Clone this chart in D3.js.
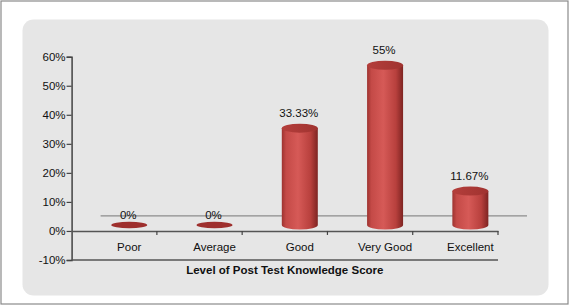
<!DOCTYPE html>
<html>
<head>
<meta charset="utf-8">
<script src="https://cdn.jsdelivr.net/npm/d3@7"></script>
<style>
  body { margin: 0; background: #fff; }
  text { font-family: "Liberation Sans", Arial, sans-serif; }
</style>
</head>
<body>
<svg id="chart"></svg>
<script>
// chart data
const categories = ["Poor", "Average", "Good", "Very Good", "Excellent"];
const values = [0, 0, 33.33, 55, 11.67];
const valueLabels = ["0%", "0%", "33.33%", "55%", "11.67%"];
const yTicks = [-10, 0, 10, 20, 30, 40, 50, 60];
const xTitle = "Level of Post Test Knowledge Score";

const W = 570, H = 306;
const mLeft = 71.6, mRight = 498, mTop = 56.7, mBottom = 260;
// 3d offset of the bars
const dx = 15, dy = -6;

const svg = d3.select("#chart").attr("width", W).attr("height", H);

// outer frame and rounded panel
svg.append("rect").attr("x", 1).attr("y", 1).attr("width", W - 3).attr("height", H - 3)
  .attr("fill", "#fff").attr("stroke", "#8a8a8a").attr("stroke-width", 1.2);
svg.append("rect").attr("x", 22.5).attr("y", 19.5).attr("width", 526).attr("height", 276)
  .attr("rx", 11).attr("fill", "#e6e6e6");

const x = d3.scaleBand().domain(categories).range([mLeft, mRight]);
const y = d3.scaleLinear().domain([-10, 60]).range([mBottom, mTop]);

const defs = svg.append("defs");
const grad = defs.append("linearGradient").attr("id", "cyl").attr("x1", "0").attr("x2", "1");
grad.append("stop").attr("offset", "0").attr("stop-color", "#9e3330");
grad.append("stop").attr("offset", "0.12").attr("stop-color", "#c44a47");
grad.append("stop").attr("offset", "0.45").attr("stop-color", "#d65a57");
grad.append("stop").attr("offset", "0.8").attr("stop-color", "#b8403d");
grad.append("stop").attr("offset", "1").attr("stop-color", "#7e2422");
const gradTop = defs.append("linearGradient").attr("id", "cylTop").attr("x1", "0").attr("x2", "1");
gradTop.append("stop").attr("offset", "0").attr("stop-color", "#b43e3b");
gradTop.append("stop").attr("offset", "1").attr("stop-color", "#a03330");

// back floor line
svg.append("line")
  .attr("x1", mLeft + 29).attr("x2", mRight + 29)
  .attr("y1", y(0) - 15).attr("y2", y(0) - 15)
  .attr("stroke", "#8c8c8c").attr("stroke-width", 1.2);

// y axis
const yAxis = d3.axisLeft(y).tickValues(yTicks).tickSize(5).tickFormat(d => d + "%");
const gy = svg.append("g").attr("transform", `translate(${mLeft},0)`).call(yAxis);
gy.select(".domain").attr("stroke", "#444").attr("stroke-width", 1.5);
gy.selectAll(".tick line").attr("stroke", "#444").attr("stroke-width", 1.2);
gy.selectAll(".tick text").attr("font-size", 11.5).attr("fill", "#111").attr("x", -6);

// category axis at 0
const xAxis = d3.axisBottom(x).tickSize(0).tickFormat("");
const gx = svg.append("g").attr("transform", `translate(0,${y(0)})`).call(xAxis);
gx.select(".domain").attr("stroke", "#555").attr("stroke-width", 1.5);
gx.selectAll(".tick").remove();
gx.selectAll(".sep").data(d3.range(1, categories.length + 1)).join("line")
  .attr("x1", i => mLeft + i * x.bandwidth()).attr("x2", i => mLeft + i * x.bandwidth())
  .attr("y1", 0).attr("y2", 4).attr("stroke", "#444").attr("stroke-width", 1.2);

// bottom line at -10%
svg.append("line").attr("x1", mLeft).attr("x2", mRight).attr("y1", y(-10)).attr("y2", y(-10))
  .attr("stroke", "#555").attr("stroke-width", 1.5);

// category labels
svg.append("g").selectAll("text").data(categories).join("text")
  .attr("x", d => x(d) + x.bandwidth() / 2 + dx)
  .attr("y", y(0) + 20)
  .attr("text-anchor", "middle").attr("font-size", 11.5).attr("fill", "#111")
  .text(d => d);

// cylinders
const bw = 36, ry = 4.5;
const bars = svg.append("g").selectAll("g").data(categories).join("g");
bars.each(function(c, i) {
  const g = d3.select(this);
  const cx = x(c) + x.bandwidth() / 2 + dx;
  const yb = y(0) + dy, yt = y(values[i]) + dy;
  if (values[i] > 0) {
    g.append("path")
      .attr("d", `M${cx - bw / 2},${yt} L${cx - bw / 2},${yb} A${bw / 2},${ry} 0 0 0 ${cx + bw / 2},${yb} L${cx + bw / 2},${yt} Z`)
      .attr("fill", "url(#cyl)");
    g.append("ellipse").attr("cx", cx).attr("cy", yt).attr("rx", bw / 2).attr("ry", ry)
      .attr("fill", "url(#cylTop)");
  } else {
    g.append("ellipse").attr("cx", cx).attr("cy", yb).attr("rx", bw / 2).attr("ry", 3.2)
      .attr("fill", "#9e2f2d");
  }
});

// value labels
svg.append("g").selectAll("text").data(categories).join("text")
  .attr("x", d => x(d) + x.bandwidth() / 2 + dx - 1)
  .attr("y", (d, i) => y(values[i]) + dy - (values[i] > 0 ? 11 : 6))
  .attr("text-anchor", "middle").attr("font-size", 11.5).attr("fill", "#111")
  .text((d, i) => valueLabels[i]);

// axis title
svg.append("text").attr("x", (mLeft + mRight) / 2).attr("y", 274)
  .attr("text-anchor", "middle").attr("font-size", 11.5).attr("font-weight", "bold")
  .attr("fill", "#111").text(xTitle);
</script>
</body>
</html>
